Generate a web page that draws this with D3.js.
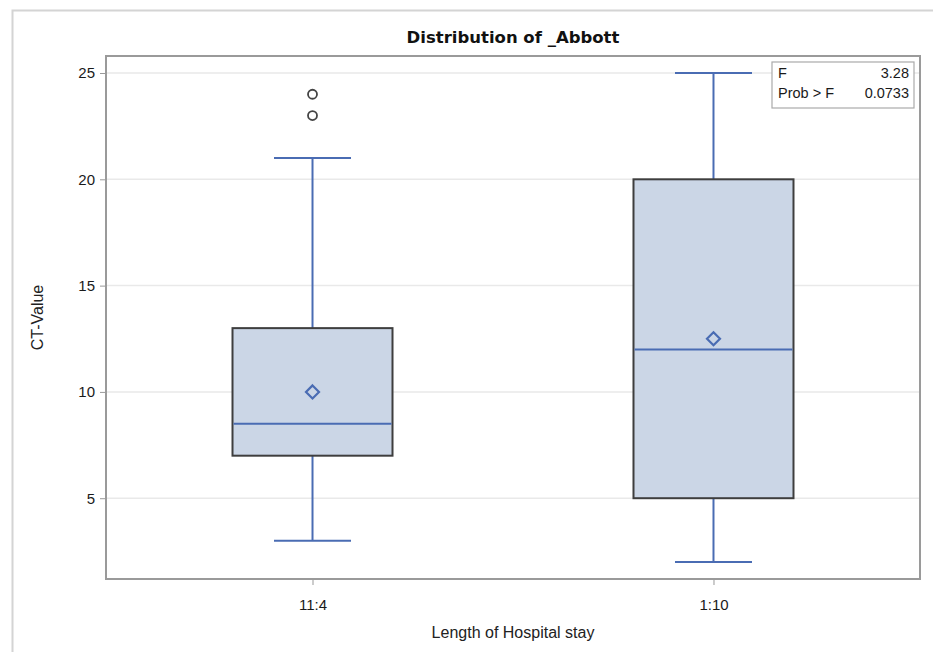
<!DOCTYPE html>
<html>
<head>
<meta charset="utf-8">
<script src="https://cdn.jsdelivr.net/npm/d3@7"></script>
<style>
  body { margin: 0; background: #fff; }
  svg { display: block; font-family: 'Liberation Sans', Arial, sans-serif; }
</style>
</head>
<body>
<svg id="chart" width="933" height="652"></svg>
<script>
'use strict'

// groups on the x axis
const categories = ['11:4', '1:10']
// box statistics per group
const q1 = [7, 5]
const medians = [8.5, 12]
const q3 = [13, 20]
const means = [10, 12.5]
const whiskerLow = [3, 2]
const whiskerHigh = [21, 25]
const outliers = [[23, 24], []]
const yTicks = [5, 10, 15, 20, 25]
// inset statistics
const statLabels = ['F', 'Prob > F']
const statValues = ['3.28', '0.0733']

const svg = d3.select('#chart')
const margin = { top: 56, right: 13, bottom: 73, left: 106 }
const width = 933 - margin.left - margin.right
const height = 652 - margin.top - margin.bottom

// outer image frame
svg.append('rect')
    .attr('x', 12.5).attr('y', 10.5)
    .attr('width', 960).attr('height', 700)
    .attr('fill', 'none').attr('stroke', '#d4d4d4').attr('stroke-width', 2)

const g = svg.append('g').attr('transform', `translate(${margin.left}, ${margin.top})`)

const x = d3.scalePoint().domain(categories).range([0, width]).padding(0.515)
const y = d3.scaleLinear().domain([1.2, 25.8]).range([height, 0])

// grid lines
g.append('g')
    .selectAll('line')
    .data(yTicks)
    .enter()
    .append('line')
    .attr('x1', 0).attr('x2', width)
    .attr('y1', d => y(d)).attr('y2', d => y(d))
    .attr('stroke', '#e9e9e9').attr('stroke-width', 1.5)

const boxes = categories.map((c, i) => ({
    cat: c, q1: q1[i], med: medians[i], q3: q3[i], mean: means[i],
    lo: whiskerLow[i], hi: whiskerHigh[i], out: outliers[i]
}))

const boxW = 160
const capW = 77
const blue = '#4a6cb3'

let bg = g.append('g').selectAll('g').data(boxes).enter().append('g')
    .attr('transform', d => `translate(${x(d.cat)}, 0)`)

// whiskers
bg.append('line')
    .attr('x1', 0).attr('x2', 0)
    .attr('y1', d => y(d.q3)).attr('y2', d => y(d.hi))
    .attr('stroke', blue).attr('stroke-width', 2)
bg.append('line')
    .attr('x1', 0).attr('x2', 0)
    .attr('y1', d => y(d.q1)).attr('y2', d => y(d.lo))
    .attr('stroke', blue).attr('stroke-width', 2)
bg.append('line')
    .attr('x1', -capW / 2).attr('x2', capW / 2)
    .attr('y1', d => y(d.hi)).attr('y2', d => y(d.hi))
    .attr('stroke', blue).attr('stroke-width', 2)
bg.append('line')
    .attr('x1', -capW / 2).attr('x2', capW / 2)
    .attr('y1', d => y(d.lo)).attr('y2', d => y(d.lo))
    .attr('stroke', blue).attr('stroke-width', 2)

// box
bg.append('rect')
    .attr('x', -boxW / 2).attr('width', boxW)
    .attr('y', d => y(d.q3)).attr('height', d => y(d.q1) - y(d.q3))
    .attr('fill', '#cbd6e6').attr('stroke', '#3e3e3e').attr('stroke-width', 2)

// median
bg.append('line')
    .attr('x1', -boxW / 2 + 1).attr('x2', boxW / 2 - 1)
    .attr('y1', d => y(d.med)).attr('y2', d => y(d.med))
    .attr('stroke', blue).attr('stroke-width', 2)

// mean diamond
bg.append('path')
    .attr('d', d => `M0,${y(d.mean) - 6.5} L6.5,${y(d.mean)} L0,${y(d.mean) + 6.5} L-6.5,${y(d.mean)} Z`)
    .attr('fill', 'none').attr('stroke', blue).attr('stroke-width', 2.2)

// outliers
bg.selectAll('circle')
    .data(d => d.out)
    .enter()
    .append('circle')
    .attr('cx', 0).attr('cy', d => y(d)).attr('r', 4.5)
    .attr('fill', 'none').attr('stroke', '#444').attr('stroke-width', 1.8)

// axes
const yAxis = g.append('g')
    .call(d3.axisLeft(y).tickValues(yTicks).tickSize(6).tickPadding(5))
yAxis.select('.domain').remove()
yAxis.selectAll('.tick line').attr('stroke', '#999')
yAxis.selectAll('.tick text').attr('font-size', 15).attr('fill', '#1a1a1a')

const xAxis = g.append('g')
    .attr('transform', `translate(0, ${height})`)
    .call(d3.axisBottom(x).tickSize(6).tickPadding(14))
xAxis.select('.domain').remove()
xAxis.selectAll('.tick line').attr('stroke', '#999')
xAxis.selectAll('.tick text').attr('font-size', 15).attr('fill', '#1a1a1a')

// plot frame
g.append('rect')
    .attr('width', width).attr('height', height)
    .attr('fill', 'none').attr('stroke', '#9a9a9a').attr('stroke-width', 2)

// titles
svg.append('text')
    .attr('x', margin.left + width / 2).attr('y', 43)
    .attr('text-anchor', 'middle')
    .attr('font-family', "'DejaVu Sans', Verdana, sans-serif")
    .attr('font-size', 16.5).attr('font-weight', 'bold').attr('fill', '#111')
    .text('Distribution of _Abbott')

svg.append('text')
    .attr('x', margin.left + width / 2).attr('y', 638)
    .attr('text-anchor', 'middle')
    .attr('font-size', 16).attr('fill', '#222')
    .text('Length of Hospital stay')

svg.append('text')
    .attr('transform', `translate(43, ${margin.top + height / 2}) rotate(-90)`)
    .attr('text-anchor', 'middle')
    .attr('font-size', 16).attr('fill', '#222')
    .text('CT-Value')

// inset box
const inset = svg.append('g').attr('transform', 'translate(772, 62)')
inset.append('rect')
    .attr('width', 142).attr('height', 46)
    .attr('fill', '#fff').attr('stroke', '#aaa').attr('stroke-width', 1.2)
inset.selectAll('text.lab')
    .data(statLabels)
    .enter()
    .append('text')
    .attr('class', 'lab')
    .attr('x', 6).attr('y', (d, i) => 16 + i * 20)
    .attr('font-size', 14.5).attr('fill', '#1a1a1a')
    .text(d => d)
inset.selectAll('text.val')
    .data(statValues)
    .enter()
    .append('text')
    .attr('class', 'val')
    .attr('x', 137).attr('y', (d, i) => 16 + i * 20)
    .attr('text-anchor', 'end')
    .attr('font-size', 14.5).attr('fill', '#1a1a1a')
    .text(d => d)
</script>
</body>
</html>
